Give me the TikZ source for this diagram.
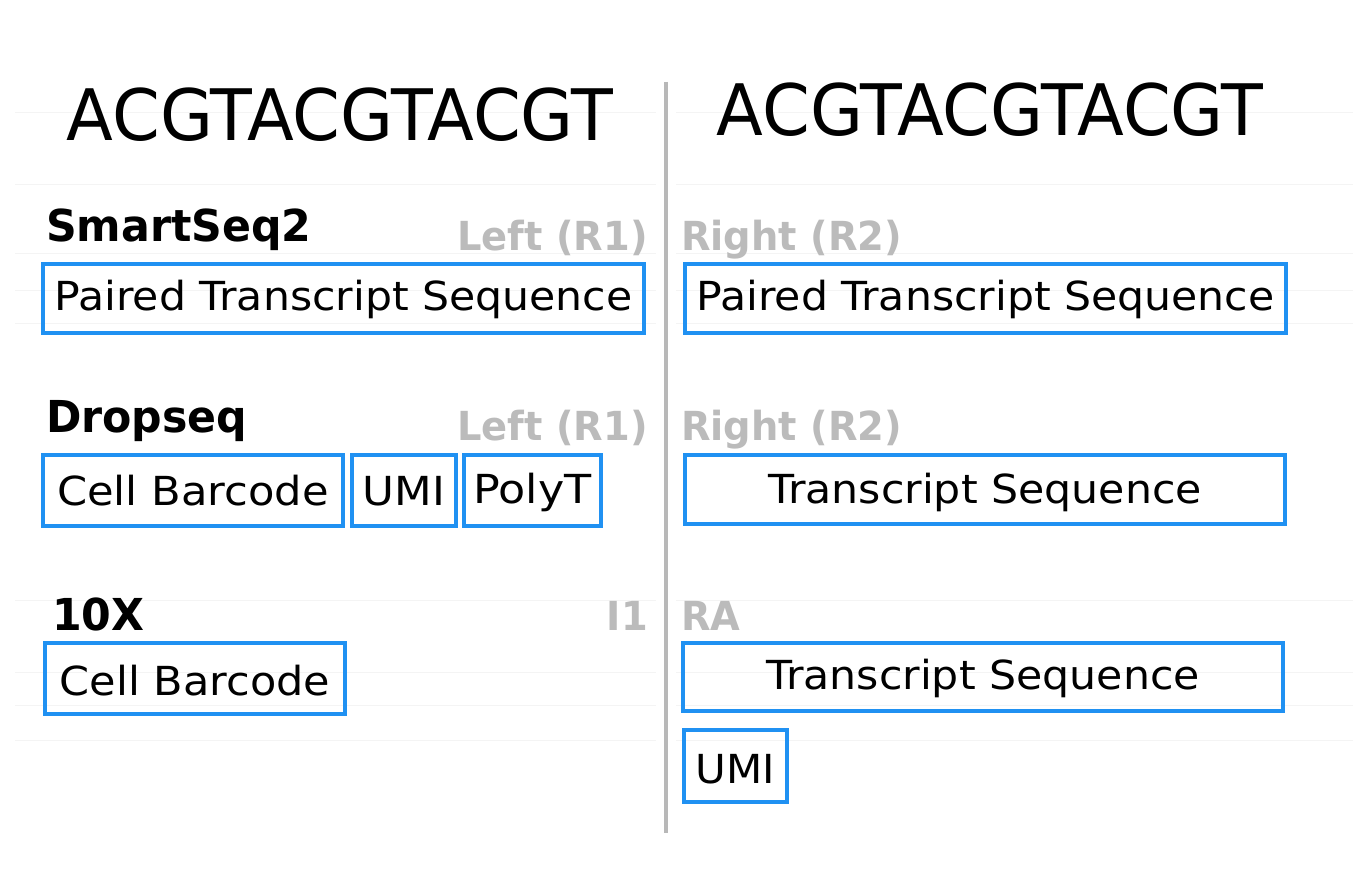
\documentclass[tikz,border=0pt]{standalone}
\usepackage{fontspec}
\setmainfont{DejaVu Sans}
\usepackage{graphicx}
\definecolor{boxblue}{HTML}{2091F2}
\definecolor{lblgray}{HTML}{BBBBBB}
\definecolor{faintline}{HTML}{F4F4F4}
\definecolor{divgray}{HTML}{B8B8B8}
% size, horizontal scale, raise, text
\newcommand{\tx}[4]{\raisebox{#3pt}{\fontsize{#1}{#1}\selectfont\scalebox{#2}[1]{#4}}}
\begin{document}
\begin{tikzpicture}[x=1pt,y=-1pt,
  seg/.style={draw=boxblue, line width=3.5pt, inner sep=0pt, outer sep=0pt,
    text height=30pt, text depth=0pt},
  title/.style={anchor=base, inner sep=0pt},
  method/.style={inner sep=0pt, font=\bfseries},
  readlbl/.style={inner sep=0pt, text=lblgray, font=\bfseries},
  guide/.style={draw=faintline, line width=1pt},
  divider/.style={draw=divgray, line width=3.5pt}]
\useasboundingbox[fill=white] (0,0) rectangle (1353,872);
% faint guide lines
\foreach \yy in {113,185,253,290,323,600,672,705,740}{
  \draw[guide] (15,\yy) -- (656,\yy);
  \draw[guide] (676,\yy) -- (1353,\yy);
}
% divider
\coordinate (dtop) at (666,82);
\coordinate (dbot) at (666,833);
\draw[divider] (dtop) -- (dbot);
% titles
\node[title] (tl) at (340,141) {\tx{71}{0.963}{0}{ACGTACGTACGT}};
\node[title] (tr) at (990,136) {\tx{71}{0.963}{0}{ACGTACGTACGT}};
% SmartSeq2
\node[method, anchor=base west] (m1) at (46,241) {\tx{44}{0.97}{0}{SmartSeq2}};
\node[readlbl, anchor=base east] (l1) at (648,250) {\tx{40}{0.96}{0}{Left (R1)}};
\node[readlbl, anchor=base west] (r1) at (681,250) {\tx{40}{0.96}{0}{Right (R2)}};
\node[seg, minimum width=601pt, minimum height=69pt] (ss2l) at (343.5,298.5) {\tx{40}{1.065}{3}{Paired Transcript Sequence}};
\node[seg, minimum width=601pt, minimum height=69pt] (ss2r) at (985.5,298.5) {\tx{40}{1.065}{3}{Paired Transcript Sequence}};
% Dropseq
\node[method, anchor=base west] (m2) at (46,432) {\tx{44}{0.97}{0}{Dropseq}};
\node[readlbl, anchor=base east] (l2) at (648,440) {\tx{40}{0.96}{0}{Left (R1)}};
\node[readlbl, anchor=base west] (r2) at (681,440) {\tx{40}{0.96}{0}{Right (R2)}};
\node[seg, minimum width=300pt, minimum height=71pt] (dcb) at (193,490.5) {\tx{40}{1.08}{0.5}{Cell Barcode}};
\node[seg, minimum width=104pt, minimum height=71pt] (dumi) at (404,490.5) {\tx{40}{1.09}{0.5}{UMI}};
\node[seg, minimum width=137pt, minimum height=71pt] (dpt) at (532.5,490.5) {\tx{40}{1.11}{2.5}{PolyT}};
\node[seg, minimum width=600pt, minimum height=69pt] (dts) at (985,489.5) {\tx{40}{1.067}{1.5}{Transcript Sequence}};
% 10X
\node[method, anchor=base west] (m3) at (52,630) {\tx{44}{0.97}{0}{10X}};
\node[readlbl, anchor=base east] (l3) at (648,630) {\tx{40}{0.96}{0}{I1}};
\node[readlbl, anchor=base west] (r3) at (681,630) {\tx{40}{0.96}{0}{RA}};
\node[seg, minimum width=300pt, minimum height=71pt] (xcb) at (195,678.5) {\tx{40}{1.075}{-1.5}{Cell Barcode}};
\node[seg, minimum width=600pt, minimum height=68pt] (xts) at (983,677) {\tx{40}{1.067}{3}{Transcript Sequence}};
\node[seg, minimum width=103pt, minimum height=72pt] (xumi) at (735.5,766) {\tx{40}{1.05}{-2}{UMI}};
\end{tikzpicture}
\end{document}
